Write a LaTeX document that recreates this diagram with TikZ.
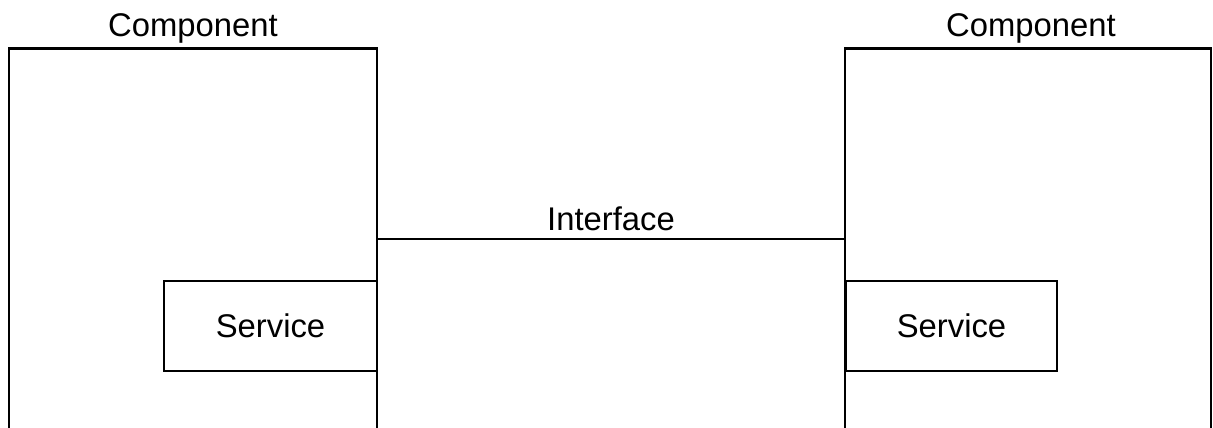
\documentclass[tikz,border=0pt]{standalone}
\usepackage{fontspec}
\setmainfont{Liberation Sans}
\usetikzlibrary{calc}
\begin{document}
\begin{tikzpicture}[x=1pt,y=-1pt,
  every node/.style={font=\fontsize{32.8}{39}\selectfont, inner sep=0pt, outer sep=0pt},
  compbox/.style={draw, line width=2.8pt, rectangle, minimum width=#1, minimum height=420},
  servbox/.style={draw, line width=2.8pt, fill=white, rectangle, minimum width=#1, minimum height=90},
  link/.style={line width=2.8pt}]
  \useasboundingbox (0,0) rectangle (1213,428);
  \clip (0,0) rectangle (1213,428);

  % the two components, open towards the bottom edge
  \node[compbox=368, anchor=north] (lc) at (193,48.5) {};
  \node[compbox=366, anchor=north] (rc) at (1028,48.5) {};
  \node[anchor=base] (lct) at (193,37) {Component};
  \node[anchor=base] (rct) at (1031,37) {Component};

  % interface between the components
  \coordinate (ifl) at (lc.north east |- 0,239);
  \coordinate (ifr) at (rc.north west |- 0,239);
  \draw[link] (ifl) -- node[above=9pt, anchor=base] (ift) {Interface} (ifr);

  % services sitting on the inner walls
  \node[servbox=213] (ls) at (270.5,326) {Service};
  \node[servbox=211] (rs) at (951.5,326) {Service};
\end{tikzpicture}
\end{document}
